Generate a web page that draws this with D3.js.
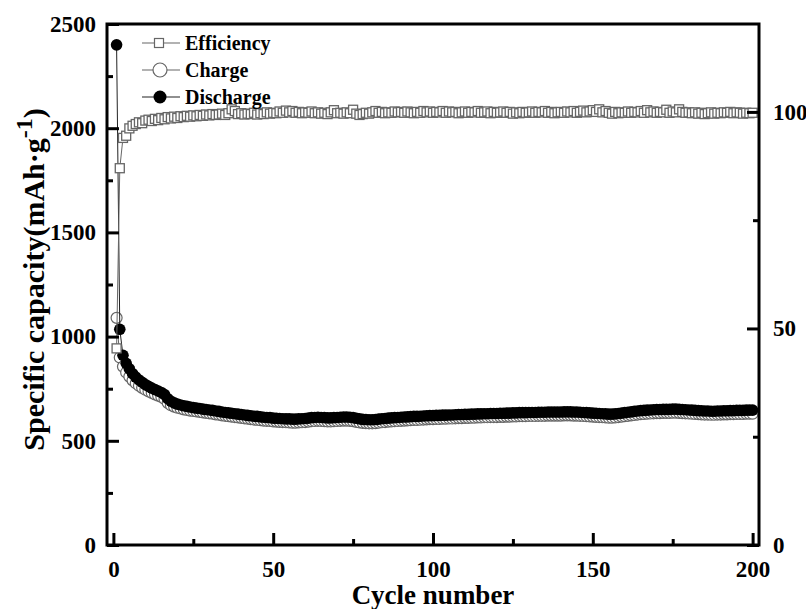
<!DOCTYPE html>
<html>
<head>
<meta charset="utf-8">
<script src="https://cdn.jsdelivr.net/npm/d3@7/dist/d3.min.js"></script>
<style>
  body { margin: 0; background: #fff; }
  svg text { font-family: "Liberation Serif", "Times New Roman", serif; font-weight: bold; fill: #000; }
</style>
</head>
<body>
<svg id="chart" width="806" height="609"></svg>
<script>
// cycle numbers 1..200
var cycles = d3.range(1, 201);

// discharge capacity, mAh/g
var discharge = [
  2400, 1035, 910, 872, 845, 822, 806, 792, 781, 770,
  761, 753, 746, 739, 732, 722, 702, 690, 682, 676,
  672, 668, 665, 662, 659, 657, 655, 652, 650, 648,
  646, 643, 641, 638, 636, 634, 632, 630, 628, 626,
  624, 622, 620, 618, 617, 615, 613, 612, 611, 609,
  608, 607, 606, 605, 605, 604, 604, 605, 606, 607,
  609, 611, 612, 613, 612, 611, 610, 610, 611, 612,
  613, 614, 614, 613, 611, 608, 605, 603, 602, 601,
  601, 602, 604, 606, 607, 609, 610, 611, 612, 613,
  614, 615, 616, 617, 617, 618, 619, 620, 621, 621,
  622, 622, 623, 623, 624, 624, 625, 626, 626, 627,
  627, 628, 628, 629, 629, 630, 630, 631, 631, 631,
  632, 632, 633, 633, 634, 634, 635, 635, 635, 636,
  636, 636, 637, 637, 637, 638, 638, 638, 638, 638,
  639, 639, 639, 638, 638, 637, 636, 635, 634, 633,
  632, 631, 630, 629, 628, 628, 629, 631, 633, 635,
  637, 639, 641, 643, 645, 646, 647, 648, 649, 650,
  650, 651, 651, 651, 652, 652, 651, 650, 649, 648,
  647, 646, 645, 644, 643, 643, 642, 642, 643, 643,
  644, 644, 645, 645, 646, 646, 646, 647, 647, 647
];

// charge capacity, mAh/g
var charge = [
  1090, 900, 856, 828, 808, 790, 776, 764, 754, 745,
  737, 730, 723, 717, 711, 701, 682, 671, 664, 659,
  655, 651, 648, 645, 643, 641, 639, 636, 634, 632,
  630, 627, 625, 622, 620, 618, 616, 614, 612, 610,
  608, 606, 604, 602, 601, 599, 597, 596, 595, 593,
  592, 591, 590, 589, 588, 587, 587, 588, 589, 590,
  592, 594, 595, 596, 595, 594, 593, 593, 594, 595,
  596, 597, 597, 596, 594, 591, 588, 586, 585, 584,
  584, 585, 587, 589, 590, 592, 593, 594, 595, 596,
  597, 598, 599, 600, 600, 601, 602, 603, 604, 604,
  605, 605, 606, 606, 607, 607, 608, 609, 609, 610,
  610, 611, 611, 612, 612, 613, 613, 614, 614, 614,
  615, 615, 616, 616, 617, 617, 618, 618, 618, 619,
  619, 619, 620, 620, 620, 621, 621, 621, 621, 621,
  622, 622, 622, 621, 621, 620, 619, 618, 617, 616,
  615, 614, 613, 612, 611, 611, 612, 614, 616, 618,
  620, 622, 624, 626, 628, 629, 630, 631, 632, 633,
  633, 634, 634, 634, 635, 635, 634, 633, 632, 631,
  630, 629, 628, 627, 626, 626, 625, 625, 626, 626,
  627, 627, 628, 628, 629, 629, 629, 630, 630, 630
];

// coulombic efficiency, %
var efficiency = [
  45.4, 87.0, 94.0, 94.5, 96.2, 96.8, 97.2, 97.6, 97.4, 98.0,
  98.2, 97.9, 98.4, 98.1, 98.6, 98.3, 98.8, 98.5, 98.9, 98.6,
  99.0, 98.8, 99.1, 98.9, 99.2, 99.0, 99.3, 99.1, 99.4, 99.2,
  99.5, 99.3, 99.4, 99.6, 99.3, 99.7, 100.6, 100.2, 99.5, 99.7,
  99.4, 99.6, 99.5, 99.8, 99.4, 99.7, 99.5, 99.9, 99.6, 99.8,
  99.7, 100.1, 99.8, 100.3, 99.9, 100.2, 99.8, 100.0, 99.7, 99.9,
  99.8, 100.1, 99.7, 99.9, 99.6, 99.8, 99.5, 99.9, 100.4, 99.7,
  99.8, 99.6, 99.9, 99.7, 100.5, 99.6, 99.3, 99.5, 99.8, 99.6,
  99.9, 100.2, 99.8, 100.0, 99.7, 99.9, 99.8, 100.1, 99.9, 100.0,
  99.8, 100.1, 99.9, 99.7, 100.0, 99.8, 100.2, 99.9, 100.1, 99.8,
  100.0, 99.9, 100.2, 99.8, 100.1, 99.9, 100.0, 99.7, 99.9, 100.1,
  99.8, 100.0, 99.9, 100.2, 99.8, 99.9, 100.1, 99.7, 100.0, 99.8,
  99.9, 100.1, 99.8, 100.0, 99.6, 99.9, 99.7, 100.0, 99.8, 99.9,
  100.1, 99.8, 100.0, 99.9, 100.2, 99.8, 100.0, 99.7, 99.9, 100.0,
  99.8, 100.1, 99.9, 100.2, 99.8, 100.0, 100.3, 99.9, 100.1, 100.4,
  100.0, 100.6, 99.9, 100.2, 99.8, 99.6, 100.0, 99.7, 99.9, 99.8,
  100.1, 99.8, 100.0, 99.9, 100.2, 99.8, 100.4, 99.9, 100.1, 99.8,
  100.0, 99.9, 100.5, 99.8, 100.1, 99.9, 100.6, 100.0, 99.8, 99.9,
  99.7, 99.9, 99.6, 99.8, 99.5, 99.7, 99.9, 99.6, 99.8, 99.7,
  99.9, 99.8, 100.0, 99.7, 99.9, 99.8, 99.6, 99.8, 99.7, 99.8
];

var xTicks = [0, 50, 100, 150, 200];
var yLeftTicks = [0, 500, 1000, 1500, 2000, 2500];
var yRightTicks = [0, 50, 100];
var legendNames = ["Efficiency", "Charge", "Discharge"];

var svg = d3.select("#chart");
var padL = 107, padR = 759, padT = 24, padB = 545;

var x = d3.scaleLinear().domain([-2, 202]).range([padL, padR]);
var yL = d3.scaleLinear().domain([0, 2500]).range([padB, padT]);
var yR = d3.scaleLinear().domain([0, 120.3]).range([padB, padT]);

var grey = "#666";

// ---- series ----
var seriesCharge = cycles.map(function(c, i){ return {c: c, v: charge[i]}; });
var seriesDis = cycles.map(function(c, i){ return {c: c, v: discharge[i]}; });
var seriesEff = cycles.map(function(c, i){ return {c: c, v: efficiency[i]}; });

var lineL = d3.line().x(function(d){ return x(d.c); }).y(function(d){ return yL(d.v); });
var lineR = d3.line().x(function(d){ return x(d.c); }).y(function(d){ return yR(d.v); });

var plot = svg.append("g");

plot.append("path").datum(seriesCharge)
    .attr("d", lineL).attr("fill", "none").attr("stroke", grey).attr("stroke-width", 1);
plot.selectAll(".chg").data(seriesCharge).enter().append("circle")
    .attr("class", "chg")
    .attr("cx", function(d){ return x(d.c); })
    .attr("cy", function(d){ return yL(d.v); })
    .attr("r", 5.5)
    .attr("fill", "#fff").attr("stroke", grey).attr("stroke-width", 1.2);

plot.append("path").datum(seriesDis)
    .attr("d", lineL).attr("fill", "none").attr("stroke", "#222").attr("stroke-width", 1);
plot.selectAll(".dis").data(seriesDis).enter().append("circle")
    .attr("class", "dis")
    .attr("cx", function(d){ return x(d.c); })
    .attr("cy", function(d){ return yL(d.v); })
    .attr("r", 5.8)
    .attr("fill", "#000");

plot.append("path").datum(seriesEff)
    .attr("d", lineR).attr("fill", "none").attr("stroke", grey).attr("stroke-width", 1);
plot.selectAll(".eff").data(seriesEff).enter().append("rect")
    .attr("class", "eff")
    .attr("x", function(d){ return x(d.c) - 4.5; })
    .attr("y", function(d){ return yR(d.v) - 4.5; })
    .attr("width", 9).attr("height", 9)
    .attr("fill", "#fff").attr("stroke", grey).attr("stroke-width", 1.3);

// ---- axes ----
function styleAxis(g){
    g.select(".domain").remove();
    g.selectAll(".tick line").attr("stroke", "#000").attr("stroke-width", 3);
    g.selectAll(".tick text").style("font-size", "23px").style("font-family", "Liberation Serif").style("font-weight", "bold");
}

svg.append("g").attr("transform", "translate(0," + padB + ")")
    .call(d3.axisBottom(x).tickValues([25, 75, 125, 175]).tickSize(-6).tickFormat(""))
    .call(styleAxis);
svg.append("g").attr("transform", "translate(0," + padB + ")")
    .call(d3.axisBottom(x).tickValues(xTicks).tickSize(-12).tickPadding(16).tickFormat(d3.format("d")))
    .call(styleAxis);

svg.append("g").attr("transform", "translate(" + padL + ",0)")
    .call(d3.axisLeft(yL).tickValues([250, 750, 1250, 1750, 2250]).tickSize(-6).tickFormat(""))
    .call(styleAxis);
svg.append("g").attr("transform", "translate(" + padL + ",0)")
    .call(d3.axisLeft(yL).tickValues(yLeftTicks).tickSize(-12).tickPadding(11).tickFormat(d3.format("d")))
    .call(styleAxis);

svg.append("g").attr("transform", "translate(" + padR + ",0)")
    .call(d3.axisRight(yR).tickValues([25, 75]).tickSize(-6).tickFormat(""))
    .call(styleAxis);
svg.append("g").attr("transform", "translate(" + padR + ",0)")
    .call(d3.axisRight(yR).tickValues(yRightTicks).tickSize(-12).tickPadding(14).tickFormat(d3.format("d")))
    .call(styleAxis);

// frame
svg.append("rect")
    .attr("x", padL).attr("y", padT)
    .attr("width", padR - padL).attr("height", padB - padT)
    .attr("fill", "none").attr("stroke", "#000").attr("stroke-width", 3);

// ---- titles ----
svg.append("text")
    .attr("x", (padL + padR) / 2).attr("y", 604)
    .attr("text-anchor", "middle")
    .style("font-size", "27px")
    .text("Cycle number");

var yt = svg.append("text")
    .attr("transform", "translate(44," + ((padT + padB) / 2 - 5) + ") rotate(-90)")
    .attr("text-anchor", "middle")
    .style("font-size", "30px");
yt.append("tspan").text("Specific capacity(mAh\u00b7g");
yt.append("tspan").attr("dy", -12).style("font-size", "24px").text("-1");
yt.append("tspan").attr("dy", 12).text(")");

// ---- legend ----
var lg = svg.append("g");
legendNames.forEach(function(name, i){
    var cy = 43 + i * 27;
    lg.append("line").attr("x1", 142).attr("x2", 180).attr("y1", cy).attr("y2", cy)
        .attr("stroke", i === 2 ? "#222" : grey).attr("stroke-width", 1.2);
    if (i === 0) {
        lg.append("rect").attr("x", 154.5).attr("y", cy - 4.5).attr("width", 9).attr("height", 9)
            .attr("fill", "#fff").attr("stroke", grey).attr("stroke-width", 1.2);
    } else if (i === 1) {
        lg.append("circle").attr("cx", 160).attr("cy", cy).attr("r", 7)
            .attr("fill", "#fff").attr("stroke", grey).attr("stroke-width", 1.2);
    } else {
        lg.append("circle").attr("cx", 160).attr("cy", cy).attr("r", 6.5).attr("fill", "#000");
    }
    lg.append("text").attr("x", 185).attr("y", cy + 7)
        .style("font-size", "20px").text(name);
});
</script>
</body>
</html>
